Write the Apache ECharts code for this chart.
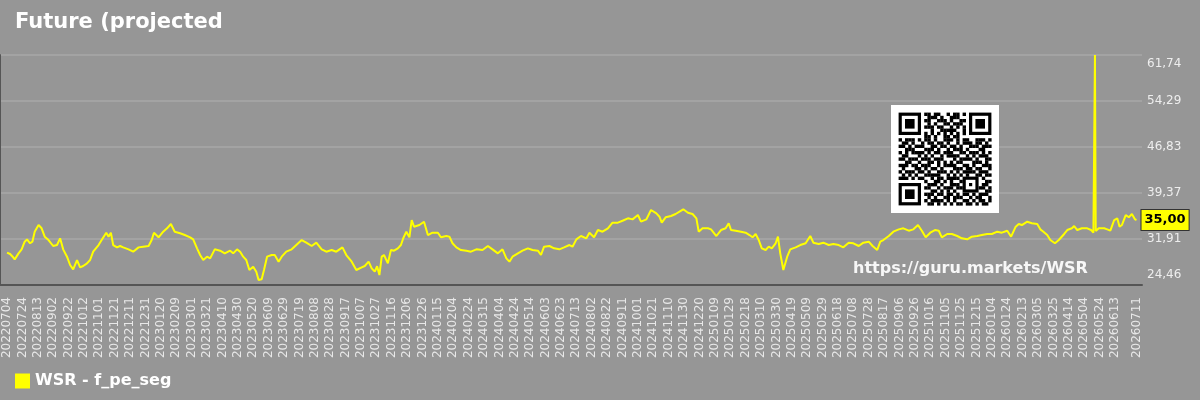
<!DOCTYPE html>
<html>
<head>
<meta charset="utf-8">
<title>WSR - f_pe_seg</title>
<script src="https://cdn.jsdelivr.net/npm/echarts@6/dist/echarts.min.js"></script>
<style>
  html, body { margin: 0; padding: 0; background: #969696; }
  #chart { width: 1200px; height: 400px; }
</style>
</head>
<body>
<div id="chart"></div>
<script>
// daily categories from 2022-07-04 to 2026-07-11
const startDay = Date.UTC(2022, 6, 4);
const dayCount = 1469;
const categories = [];
for (let i = 0; i < dayCount; i++) {
  const d = new Date(startDay + i * 86400000);
  categories.push(d.getUTCFullYear() + String(d.getUTCMonth() + 1).padStart(2, '0') + String(d.getUTCDate()).padStart(2, '0'));
}

// values: day offset from 20220704 and f_pe_seg value
const dayIndex = [
  0, 4, 8, 10, 15, 19, 23, 26, 30, 33, 36, 41, 45, 49, 54, 60, 65, 69, 73, 78,
  82, 86, 91, 95, 99, 104, 108, 112, 119, 123, 129, 132, 135, 138, 143, 147, 151, 158, 164, 171,
  177, 184, 188, 191, 197, 203, 208, 213, 218, 225, 231, 238, 242, 247, 251, 255, 260, 264, 270, 277,
  283, 290, 294, 299, 303, 307, 311, 315, 320, 324, 327, 331, 334, 338, 344, 348, 353, 357, 363, 370,
  376, 383, 389, 396, 402, 409, 415, 422, 428, 436, 441, 448, 454, 461, 465, 470, 474, 478, 481, 484,
  487, 490, 495, 499, 503, 508, 512, 515, 519, 523, 526, 529, 536, 542, 547, 553, 560, 564, 571, 575,
  579, 584, 590, 597, 603, 610, 618, 625, 631, 638, 644, 649, 653, 657, 664, 670, 677, 683, 690, 694,
  698, 705, 711, 718, 724, 731, 735, 740, 746, 753, 757, 763, 768, 774, 781, 787, 794, 800, 807, 813,
  820, 824, 831, 837, 844, 848, 851, 856, 863, 869, 874, 879, 885, 891, 896, 899, 904, 911, 915, 922,
  928, 934, 938, 941, 947, 954, 960, 965, 969, 973, 977, 981, 986, 990, 994, 999, 1002, 1005, 1009, 1014,
  1018, 1025, 1031, 1038, 1044, 1048, 1055, 1061, 1068, 1074, 1081, 1087, 1094, 1100, 1107, 1113, 1120, 1125, 1131, 1135,
  1139, 1146, 1152, 1159, 1165, 1172, 1178, 1184, 1189, 1194, 1200, 1206, 1211, 1215, 1222, 1228, 1235, 1241, 1248, 1254,
  1261, 1267, 1274, 1280, 1287, 1293, 1300, 1305, 1311, 1315, 1319, 1326, 1332, 1339, 1343, 1347, 1352, 1356, 1362, 1367,
  1374, 1378, 1384, 1387, 1391, 1397, 1404, 1409, 1412, 1414, 1415, 1419, 1426, 1430, 1434, 1439, 1443, 1446, 1449, 1454,
  1458, 1462, 1466, 1468
];
const values = [
  29.70, 29.48, 28.95, 28.62, 29.59, 30.24, 31.48, 31.86, 31.22, 31.48, 33.10, 34.18, 33.65, 32.29, 31.75, 30.78, 30.94, 32.03, 30.24, 29.05,
  27.70, 27.00, 28.51, 27.32, 27.54, 27.97, 28.51, 29.86, 30.94, 31.75, 32.94, 32.29, 32.94, 30.94, 30.56, 30.78, 30.56, 30.24, 29.86, 30.56,
  30.67, 30.78, 31.75, 32.94, 32.19, 33.10, 33.65, 34.35, 33.10, 32.84, 32.56, 32.19, 31.86, 30.40, 29.32, 28.51, 29.05, 28.78, 30.24, 30.02,
  29.59, 30.02, 29.59, 30.24, 29.86, 29.05, 28.51, 26.89, 27.43, 26.62, 25.27, 25.38, 26.89, 29.05, 29.32, 29.32, 28.24, 29.05, 29.86, 30.24,
  30.94, 31.75, 31.32, 30.78, 31.32, 30.24, 29.86, 30.13, 29.86, 30.56, 29.32, 28.24, 26.89, 27.32, 27.54, 28.24, 27.16, 26.62, 27.50, 26.08,
  29.05, 29.32, 27.97, 30.13, 30.02, 30.40, 30.94, 32.03, 33.10, 32.19, 34.99, 33.91, 34.18, 34.72, 32.56, 32.94, 32.94, 32.19, 32.40, 32.29,
  31.22, 30.56, 30.13, 30.02, 29.86, 30.24, 30.13, 30.78, 30.24, 29.59, 30.24, 28.78, 28.24, 29.05, 29.59, 30.02, 30.40, 30.13, 30.02, 29.32,
  30.67, 30.78, 30.40, 30.24, 30.56, 30.94, 30.67, 31.86, 32.40, 32.03, 32.94, 32.19, 33.37, 33.10, 33.65, 34.56, 34.56, 34.88, 35.27, 35.10,
  35.80, 34.72, 35.10, 36.62, 36.08, 35.53, 34.56, 35.43, 35.64, 35.97, 36.34, 36.73, 36.18, 35.97, 35.27, 33.10, 33.65, 33.65, 33.48, 32.40,
  33.37, 33.65, 34.46, 33.37, 33.26, 33.10, 32.94, 32.56, 32.19, 32.73, 31.75, 30.40, 30.13, 30.67, 30.40, 31.22, 32.29, 29.59, 26.90, 29.05,
  30.24, 30.56, 30.94, 31.22, 32.40, 31.32, 31.10, 31.32, 30.94, 31.10, 30.94, 30.56, 31.32, 31.22, 30.78, 31.32, 31.48, 30.78, 30.13, 31.48,
  31.75, 32.40, 33.10, 33.48, 33.65, 33.26, 33.48, 34.18, 33.26, 32.19, 32.94, 33.37, 33.26, 32.19, 32.73, 32.73, 32.40, 32.03, 31.86, 32.29,
  32.40, 32.56, 32.73, 32.73, 33.10, 32.94, 33.26, 32.29, 33.91, 34.35, 34.18, 34.72, 34.46, 34.35, 33.48, 33.10, 32.56, 31.75, 31.22, 31.75,
  32.73, 33.37, 33.65, 34.02, 33.37, 33.65, 33.65, 33.37, 32.94, 61.74, 33.20, 33.65, 33.65, 33.48, 33.26, 34.99, 35.27, 33.91, 34.18, 35.80,
  35.43, 35.97, 35.10, 35.00
];

// y axis ticks as shown on the right
const yTicks = [24.46, 31.91, 39.37, 46.83, 54.29, 61.74];
const yMin = yTicks[0];
const yMax = yTicks[yTicks.length - 1];
const lastValue = values[values.length - 1];

const fmt = v => v.toFixed(2).replace('.', ',');

// QR code decoration (29 x 29 modules, finder/alignment drawn separately)
const qrRows = [
  '00000000110110010110100000000',
  '00000000011101001110000000000',
  '00000000110011101001100000000',
  '00000000010100110111000000000',
  '00000000111011001010100000000',
  '00000000001001111100100000000',
  '00000000101010101010100000000',
  '00000000110100110110000000000',
  '10111010110100111010110011101',
  '01101001011011010010111011010',
  '11010111001101101101001110111',
  '00111000111010010111010001100',
  '10101111010110111001101110101',
  '01100010101001011110010101110',
  '11011101110111000101111010011',
  '00110010011010101011000111010',
  '11101101110010111100110100111',
  '01000110101101000111011011001',
  '10111011010011101010111101110',
  '01010100111110010101010011011',
  '11101011001011011110111110100',
  '01101110100110101001010100011',
  '10110101011101001110101010110',
  '01011010110010111011010001101',
  '11010111001101010100111110011',
  '00101100111011011010110101110',
  '10111011010100110111001011001',
  '01100110101111010100110101101',
  '11011001011010101011011010110'
];

function buildQr(x0, y0, size) {
  const n = 29;
  const m = 3.2;
  const quiet = (size - n * m) / 2;
  const ox = x0 + quiet, oy = y0 + quiet;
  const box = (x, y, w, h, fill, z) => ({ type: 'rect', z: z, silent: true, shape: { x: x, y: y, width: w, height: h }, style: { fill: fill } });
  const kids = [box(x0, y0, size, size, '#fff', 100)];
  const reserved = (r, c) => (r < 8 && c < 8) || (r < 8 && c > 20) || (r > 20 && c < 8) || (r >= 20 && r <= 24 && c >= 20 && c <= 24);
  for (let r = 0; r < n; r++) {
    for (let c = 0; c < n; c++) {
      if (reserved(r, c) || qrRows[r][c] !== '1') continue;
      kids.push(box(ox + c * m, oy + r * m, m + 0.2, m + 0.2, '#000', 101));
    }
  }
  // finder patterns
  [[0, 0], [0, 22], [22, 0]].forEach(([r, c]) => {
    kids.push(box(ox + c * m, oy + r * m, 7 * m, 7 * m, '#000', 101));
    kids.push(box(ox + (c + 1) * m, oy + (r + 1) * m, 5 * m, 5 * m, '#fff', 102));
    kids.push(box(ox + (c + 2) * m, oy + (r + 2) * m, 3 * m, 3 * m, '#000', 103));
  });
  // alignment pattern
  kids.push(box(ox + 20 * m, oy + 20 * m, 5 * m, 5 * m, '#000', 101));
  kids.push(box(ox + 21 * m, oy + 21 * m, 3 * m, 3 * m, '#fff', 102));
  kids.push(box(ox + 22 * m, oy + 22 * m, m, m, '#000', 103));
  return kids;
}

const font = 'DejaVu Sans';
const chart = echarts.init(document.getElementById('chart'), null, { renderer: 'canvas' });

chart.setOption({
  backgroundColor: '#969696',
  animation: false,
  textStyle: { fontFamily: font },
  title: {
    text: 'Future (projected',
    left: 15,
    top: 12,
    padding: 0,
    textStyle: { color: '#ffffff', fontSize: 21, fontWeight: 'bold', fontFamily: font }
  },
  legend: {
    left: 15,
    top: 373,
    padding: 0,
    itemWidth: 15,
    itemHeight: 15,
    itemGap: 10,
    icon: 'rect',
    textStyle: { color: '#ffffff', fontSize: 16, fontWeight: 'bold', fontFamily: font },
    data: ['WSR - f_pe_seg']
  },
  grid: [
    // frame: gridlines, axis lines, y labels
    { left: 0, right: 58, top: 55, bottom: 115 },
    // data area, inset a little from the frame
    { left: 7, right: 63.5, top: 55, bottom: 115 }
  ],
  xAxis: [
    {
      gridIndex: 0, type: 'value', min: 0, max: 1,
      axisLine: { show: true, lineStyle: { color: '#555555', width: 2 } },
      axisTick: { show: false }, axisLabel: { show: false }, splitLine: { show: false }
    },
    {
      gridIndex: 1, type: 'category', data: categories, boundaryGap: false,
      axisLine: { show: false }, axisTick: { show: false }, splitLine: { show: false },
      axisLabel: {
        rotate: 90,
        margin: 12,
        color: '#e8e8e8',
        fontSize: 12,
        fontFamily: font,
        interval: idx => (idx % 20 === 0 && idx <= dayCount - 21) || idx === dayCount - 1
      }
    }
  ],
  yAxis: [
    {
      gridIndex: 0, type: 'value', position: 'right', min: yMin, max: yMax,
      axisLine: { show: false },
      axisTick: { show: false, customValues: yTicks },
      splitLine: { show: true, lineStyle: { color: '#a3a3a3', width: 2 } },
      axisLabel: {
        customValues: yTicks,
        margin: 5,
        color: '#eeeeee',
        fontSize: 12,
        fontFamily: font,
        formatter: v => {
          if (Math.abs(v - yMin) < 1e-6) return '{low|' + fmt(v) + '}';
          if (Math.abs(v - yMax) < 1e-6) return '{high|' + fmt(v) + '}';
          return fmt(v);
        },
        rich: {
          low: { color: '#eeeeee', fontSize: 12, fontFamily: font, padding: [0, 0, 20, 0] },
          high: { color: '#eeeeee', fontSize: 12, fontFamily: font, padding: [18, 0, 0, 0] }
        }
      }
    },
    {
      gridIndex: 0, type: 'value', position: 'left', min: yMin, max: yMax,
      axisLine: { show: true, lineStyle: { color: '#555555', width: 2 } },
      axisTick: { show: false }, axisLabel: { show: false }, splitLine: { show: false }
    },
    {
      gridIndex: 1, type: 'value', min: yMin, max: yMax, show: false,
      splitLine: { show: false }
    }
  ],
  series: [{
    name: 'WSR - f_pe_seg',
    type: 'line',
    xAxisIndex: 1,
    yAxisIndex: 2,
    clip: false,
    data: dayIndex.map((d, i) => [d, values[i]]),
    showSymbol: false,
    symbol: 'none',
    itemStyle: { color: '#ffff00' },
    lineStyle: { color: '#ffff00', width: 2 },
    markLine: {
      silent: true,
      symbol: 'none',
      lineStyle: { color: 'rgba(0,0,0,0)', width: 0 },
      data: [{ yAxis: lastValue }],
      label: {
        show: true,
        position: 'end',
        distance: 5,
        formatter: () => fmt(lastValue),
        color: '#000000',
        fontSize: 13,
        fontWeight: 'bold',
        fontFamily: font,
        backgroundColor: '#ffff00',
        borderColor: '#333333',
        borderWidth: 1,
        padding: [4, 3, 3, 3]
      }
    }
  }],
  graphic: buildQr(891, 105, 108).concat([
    {
      type: 'text',
      silent: true,
      z: 100,
      left: 853,
      top: 261,
      style: {
        text: 'https://guru.markets/WSR',
        fill: 'rgba(255,255,255,0.92)',
        font: 'bold 16px "DejaVu Sans"'
      }
    }
  ])
});
</script>
</body>
</html>
